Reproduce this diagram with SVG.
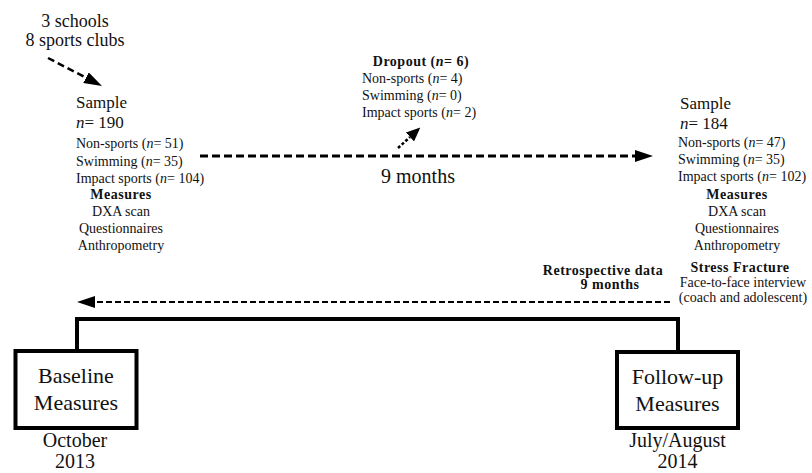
<svg xmlns="http://www.w3.org/2000/svg" width="812" height="473" viewBox="0 0 812 473">
<style>
text{font-family:"Liberation Serif","Times New Roman",serif;fill:#111}
.big{font-size:17px}
.sm{font-size:14px}
.b{font-weight:bold;letter-spacing:0.5px}
.mid{text-anchor:middle}
.box{fill:#fff;stroke:#000;stroke-width:4}
.tl{fill:none;stroke:#000;stroke-width:4}
.dash{fill:none;stroke:#000}
</style>
<defs>
<marker id="ah" markerUnits="userSpaceOnUse" markerWidth="18" markerHeight="12" refX="0" refY="6" orient="auto"><path d="M0,0 L18,6 L0,12 z" fill="#000"/></marker>
<marker id="ahs" markerUnits="userSpaceOnUse" markerWidth="14" markerHeight="12" refX="0" refY="6" orient="auto"><path d="M0,0 L14,6 L0,12 z" fill="#000"/></marker>
</defs>
<g id="connectors">
<line class="dash" x1="48" y1="58" x2="86" y2="77.7" stroke-width="2.5" stroke-dasharray="7 4" marker-end="url(#ah)"/>
<line class="dash" x1="200" y1="156" x2="635" y2="156" stroke-width="3" stroke-dasharray="8 4" marker-end="url(#ah)"/>
<line class="dash" x1="398" y1="148" x2="410" y2="137" stroke-width="2.5" stroke-dasharray="3 2" marker-end="url(#ahs)"/>
<line class="dash" x1="670" y1="302" x2="95" y2="302" stroke-width="2.2" stroke-dasharray="6 3" marker-end="url(#ah)"/>
<path class="tl" d="M77,351 V319 H678 V352"/>
</g>
<g id="source">
<text class="mid" x="75" y="27" font-size="18">3 schools</text>
<text class="mid" x="75" y="46" font-size="18">8 sports clubs</text>
</g>
<g id="sample-baseline">
<text class="big" x="76" y="108">Sample</text>
<text class="big" x="76" y="128"><tspan font-style="italic">n</tspan>= 190</text>
<text class="sm" x="76" y="148">Non-sports (<tspan font-style="italic">n</tspan>= 51)</text>
<text class="sm" x="76" y="165.5">Swimming (<tspan font-style="italic">n</tspan>= 35)</text>
<text class="sm" x="76" y="182.5">Impact sports (<tspan font-style="italic">n</tspan>= 104)</text>
<text class="sm b mid" x="121" y="199">Measures</text>
<text class="sm mid" x="121" y="216">DXA scan</text>
<text class="sm mid" x="121" y="233">Questionnaires</text>
<text class="sm mid" x="121" y="249.5">Anthropometry</text>
</g>
<g id="dropout">
<text class="sm b mid" x="421" y="66">Dropout (<tspan font-style="italic">n</tspan>= 6)</text>
<text class="sm" x="362" y="83">Non-sports (<tspan font-style="italic">n</tspan>= 4)</text>
<text class="sm" x="362" y="100">Swimming (<tspan font-style="italic">n</tspan>= 0)</text>
<text class="sm" x="362" y="117">Impact sports (<tspan font-style="italic">n</tspan>= 2)</text>
</g>
<g id="interval">
<text class="mid" x="418" y="183" font-size="20">9 months</text>
</g>
<g id="sample-followup">
<text class="big" x="680" y="109">Sample</text>
<text class="big" x="680" y="129"><tspan font-style="italic">n</tspan>= 184</text>
<text class="sm" x="678" y="147">Non-sports (<tspan font-style="italic">n</tspan>= 47)</text>
<text class="sm" x="678" y="164">Swimming (<tspan font-style="italic">n</tspan>= 35)</text>
<text class="sm" x="678" y="181">Impact sports (<tspan font-style="italic">n</tspan>= 102)</text>
<text class="sm b mid" x="737" y="199">Measures</text>
<text class="sm mid" x="737" y="216">DXA scan</text>
<text class="sm mid" x="737" y="233">Questionnaires</text>
<text class="sm mid" x="737" y="250">Anthropometry</text>
<text class="sm b mid" x="740" y="271.5">Stress Fracture</text>
<text class="sm mid" x="743" y="286.5">Face-to-face interview</text>
<text class="sm mid" x="743" y="301.5">(coach and adolescent)</text>
</g>
<g id="retrospective">
<text class="sm b mid" x="603" y="275">Retrospective data</text>
<text class="sm b mid" x="610" y="289">9 months</text>
</g>
<g id="baseline">
<rect class="box" x="15.5" y="351" width="121" height="77"/>
<text class="mid" x="76" y="383" font-size="22">Baseline</text>
<text class="mid" x="76" y="410" font-size="22">Measures</text>
<text class="mid" x="75" y="447" font-size="20">October</text>
<text class="mid" x="75" y="468" font-size="20">2013</text>
</g>
<g id="followup">
<rect class="box" x="617" y="352" width="121" height="76"/>
<text class="mid" x="677.5" y="384" font-size="22">Follow-up</text>
<text class="mid" x="677.5" y="411" font-size="22">Measures</text>
<text class="mid" x="677.5" y="447" font-size="20">July/August</text>
<text class="mid" x="677.5" y="468" font-size="20">2014</text>
</g>
</svg>
